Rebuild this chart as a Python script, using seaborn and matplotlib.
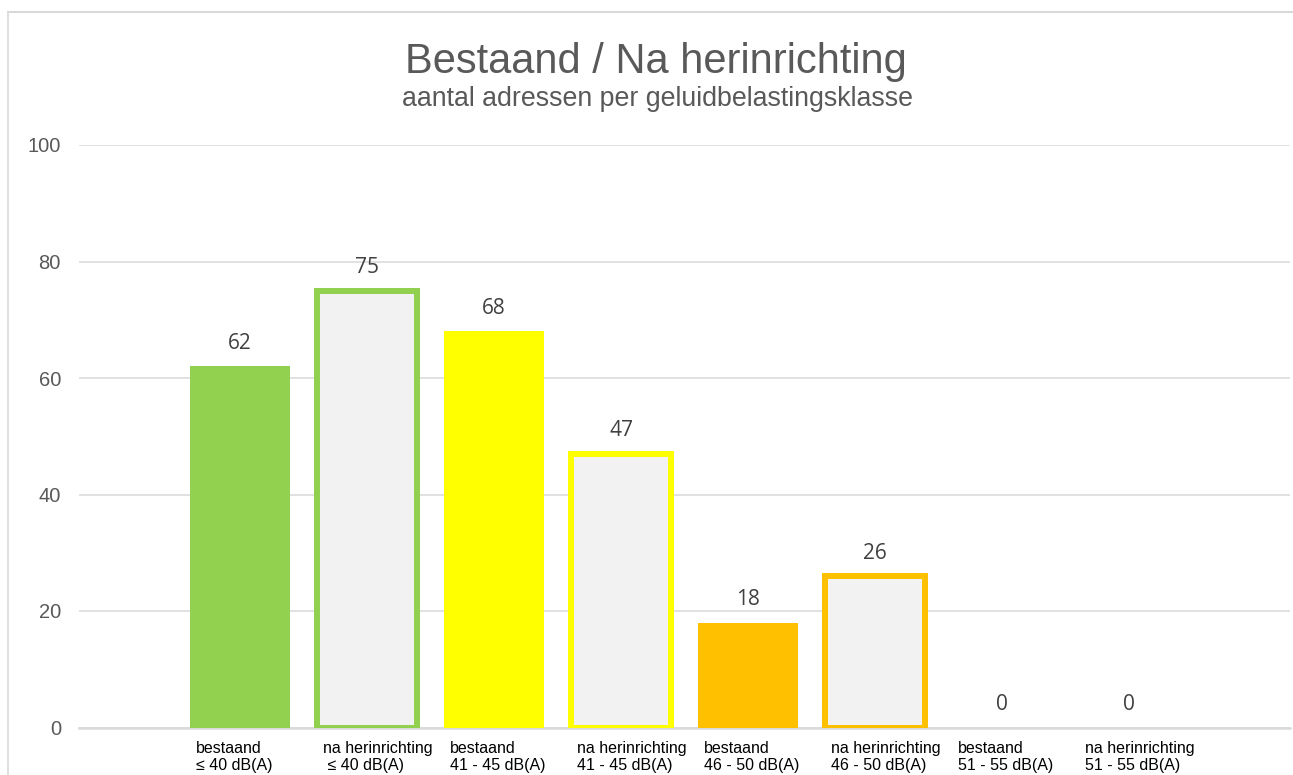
import matplotlib
matplotlib.use("Agg")
import matplotlib.pyplot as plt
from matplotlib.lines import Line2D
from matplotlib.transforms import ScaledTranslation
import seaborn as sns
import pandas as pd

# ---- data ----
categories = [
    "bestaand\n≤ 40 dB(A)",
    "na herinrichting\n ≤ 40 dB(A)",
    "bestaand\n41 - 45 dB(A)",
    "na herinrichting\n41 - 45 dB(A)",
    "bestaand\n46 - 50 dB(A)",
    "na herinrichting\n46 - 50 dB(A)",
    "bestaand\n51 - 55 dB(A)",
    "na herinrichting\n51 - 55 dB(A)",
]
values = [62, 75, 68, 47, 18, 26, 0, 0]
is_after = [False, True, False, True, False, True, False, True]
class_colors = ["#92D050", "#92D050", "#FFFF00", "#FFFF00",
                "#FFC000", "#FFC000", "#FF0000", "#FF0000"]
yticks = [0, 20, 40, 60, 80, 100]
title = "Bestaand / Na herinrichting"
subtitle = "aantal adressen per geluidbelastingsklasse"

sns.set_theme(style="white")
plt.rcParams['font.family'] = ['Liberation Sans', 'DejaVu Sans']

fig = plt.figure(figsize=(12.93, 7.75), dpi=100)
ax = fig.add_axes([79 / 1293, 47.5 / 775, (1290 - 79) / 1293, 582.5 / 775])

df = pd.DataFrame({"cat": categories, "val": values})
fills = ["#F2F2F2" if a else c for a, c in zip(is_after, class_colors)]
sns.barplot(data=df, x="cat", y="val", hue="cat", palette=fills,
            saturation=1, width=100 / 127, legend=False, ax=ax, zorder=3)

for p, a, c, v in zip(ax.patches, is_after, class_colors, values):
    if a and v > 0:
        p.set_edgecolor(c)
        p.set_linewidth(4.3)
        p.set_joinstyle("miter")
    else:
        p.set_linewidth(0)

for i, v in enumerate(values):
    ax.annotate(str(v), xy=(i, v), xytext=(0, 12.6), textcoords="offset points",
                ha="center", va="baseline", fontsize=15, color="#404040",
                family=["Open Sans", "DejaVu Sans"], zorder=5)

ax.set_ylim(0, 100)
ax.set_xlim((79 - 240) / 127, (1290 - 240) / 127)
ax.set_yticks(yticks)
ax.set_yticklabels([str(t) for t in yticks], fontsize=14.5, color="#595959")
ax.set_xticks(range(len(categories)))
ax.tick_params(axis="y", length=0, pad=13)
ax.tick_params(axis="x", length=0, pad=9.5)
ax.set_xticklabels(categories, fontsize=11.5, color="black",
                   ha="left", multialignment="left", linespacing=1.2)
shift = ScaledTranslation(-44 / 100, 0, fig.dpi_scale_trans)
for lbl in ax.get_xticklabels():
    lbl.set_transform(lbl.get_transform() + shift)
ax.set_xlabel("")
ax.set_ylabel("")
ax.yaxis.grid(True, color="#D9D9D9", linewidth=1.1)
ax.set_axisbelow(True)
for s in ["top", "right", "left"]:
    ax.spines[s].set_visible(False)
ax.spines["bottom"].set_color("#D9D9D9")
ax.spines["bottom"].set_linewidth(1.8)
ax.spines["bottom"].set_zorder(2)

fig.text(655.5 / 1293, 1 - 72.5 / 775, title, ha="center", va="baseline",
         fontsize=30, color="#595959")
fig.text(657 / 1293, 1 - 106.5 / 775, subtitle, ha="center", va="baseline",
         fontsize=19.3, color="#595959")

# outer chart border
fig.add_artist(Line2D([8 / 1293, 1], [1 - 12 / 775, 1 - 12 / 775],
                      transform=fig.transFigure, color="#D9D9D9", linewidth=1.5))
fig.add_artist(Line2D([8 / 1293, 8 / 1293], [0, 1 - 12 / 775],
                      transform=fig.transFigure, color="#D9D9D9", linewidth=1.2))

fig.savefig("out.png", dpi=100)
